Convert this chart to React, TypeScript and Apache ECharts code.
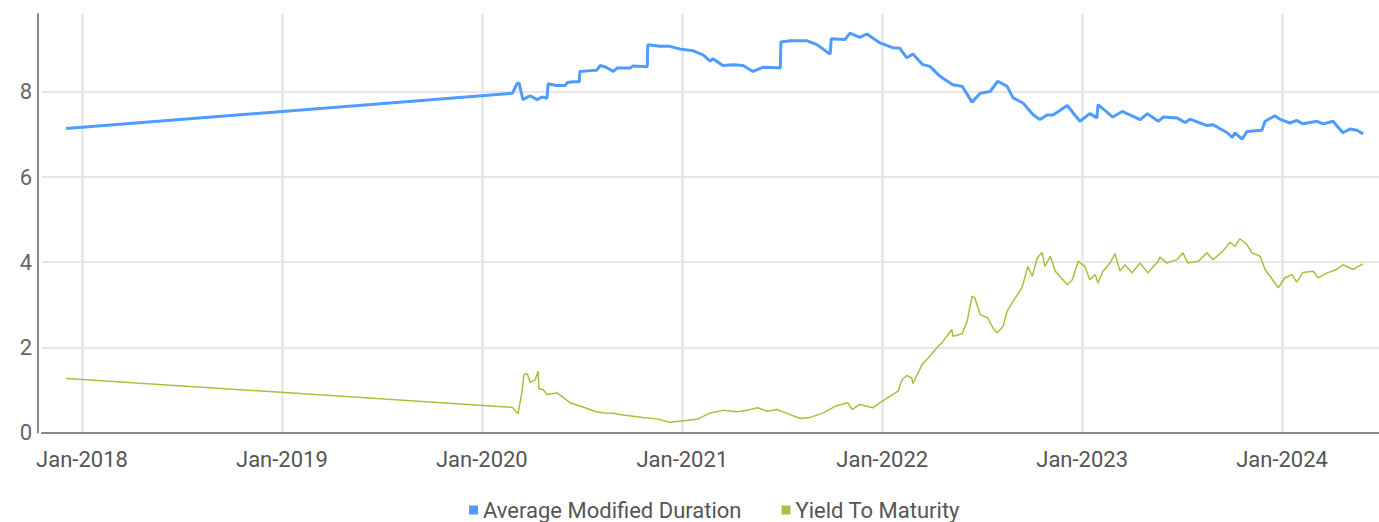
import React, { useEffect, useRef } from "react";
import * as echarts from "echarts";

const seriesNames = ["Average Modified Duration", "Yield To Maturity"];

const durationDates = [
  "2017-12-03", "2020-02-26", "2020-03-05", "2020-03-09", "2020-03-16", "2020-03-29", "2020-04-11", "2020-04-20",
  "2020-04-29", "2020-05-01", "2020-05-16", "2020-06-01", "2020-06-05", "2020-06-16", "2020-06-27", "2020-06-28",
  "2020-07-17", "2020-07-29", "2020-08-04", "2020-08-15", "2020-08-28", "2020-09-04", "2020-09-28", "2020-10-03",
  "2020-10-29", "2020-10-30", "2020-11-21", "2020-12-09", "2020-12-27", "2021-01-20", "2021-02-08", "2021-02-21",
  "2021-02-26", "2021-03-16", "2021-04-04", "2021-04-22", "2021-05-10", "2021-05-29", "2021-06-23", "2021-06-29",
  "2021-06-30", "2021-07-17", "2021-08-17", "2021-09-04", "2021-09-22", "2021-09-28", "2021-09-30", "2021-10-25",
  "2021-11-03", "2021-11-21", "2021-12-04", "2021-12-28", "2022-01-20", "2022-02-02", "2022-02-15", "2022-02-26",
  "2022-03-16", "2022-03-29", "2022-04-17", "2022-05-10", "2022-05-27", "2022-06-14", "2022-06-29", "2022-07-17",
  "2022-07-31", "2022-08-17", "2022-08-28", "2022-09-15", "2022-10-04", "2022-10-16", "2022-10-29", "2022-11-09",
  "2022-12-05", "2022-12-16", "2022-12-28", "2023-01-15", "2023-01-28", "2023-01-30", "2023-02-26", "2023-03-15",
  "2023-03-29", "2023-04-17", "2023-04-30", "2023-05-20", "2023-05-29", "2023-06-23", "2023-07-08", "2023-07-17",
  "2023-08-17", "2023-08-28", "2023-09-23", "2023-10-02", "2023-10-07", "2023-10-20", "2023-10-29", "2023-11-25",
  "2023-12-01", "2023-12-19", "2023-12-28", "2024-01-15", "2024-01-28", "2024-02-08", "2024-03-05", "2024-03-16",
  "2024-04-03", "2024-04-21", "2024-05-04", "2024-05-17", "2024-05-28",
];
const durationValues = [
  7.14, 7.97, 8.19, 8.21, 7.82, 7.91, 7.82, 7.88,
  7.85, 8.19, 8.15, 8.15, 8.22, 8.24, 8.24, 8.48,
  8.5, 8.51, 8.62, 8.58, 8.48, 8.56, 8.56, 8.61,
  8.59, 9.11, 9.07, 9.07, 9.01, 8.97, 8.87, 8.72,
  8.78, 8.62, 8.64, 8.62, 8.48, 8.58, 8.57, 8.56,
  9.17, 9.2, 9.2, 9.11, 8.94, 8.89, 9.25, 9.23,
  9.38, 9.28, 9.36, 9.15, 9.04, 9.03, 8.8, 8.89,
  8.64, 8.6, 8.36, 8.17, 8.13, 7.76, 7.97, 8.01,
  8.25, 8.13, 7.86, 7.74, 7.46, 7.35, 7.46, 7.46,
  7.68, 7.5, 7.31, 7.49, 7.39, 7.7, 7.41, 7.54,
  7.46, 7.35, 7.49, 7.31, 7.41, 7.39, 7.28, 7.36,
  7.21, 7.23, 7.04, 6.93, 7.04, 6.89, 7.07, 7.1,
  7.31, 7.44, 7.36, 7.27, 7.33, 7.25, 7.31, 7.25,
  7.31, 7.04, 7.13, 7.1, 7.01,
];

const ytmDates = [
  "2017-12-03", "2020-02-26", "2020-03-07", "2020-03-14", "2020-03-18", "2020-03-24", "2020-03-29", "2020-04-07",
  "2020-04-13", "2020-04-14", "2020-04-22", "2020-04-29", "2020-05-17", "2020-05-26", "2020-06-10", "2020-07-04",
  "2020-07-29", "2020-08-13", "2020-08-28", "2020-09-15", "2020-10-03", "2020-10-21", "2020-11-16", "2020-12-09",
  "2020-12-31", "2021-01-28", "2021-02-21", "2021-03-16", "2021-04-11", "2021-04-29", "2021-05-18", "2021-06-05",
  "2021-06-23", "2021-07-17", "2021-08-04", "2021-08-22", "2021-09-15", "2021-10-10", "2021-10-30", "2021-11-07",
  "2021-11-21", "2021-12-15", "2021-12-28", "2022-01-15", "2022-01-30", "2022-02-06", "2022-02-15", "2022-02-24",
  "2022-02-26", "2022-03-15", "2022-03-26", "2022-04-11", "2022-04-22", "2022-05-08", "2022-05-10", "2022-05-27",
  "2022-06-05", "2022-06-14", "2022-06-19", "2022-06-29", "2022-07-13", "2022-07-22", "2022-07-30", "2022-08-10",
  "2022-08-17", "2022-09-01", "2022-09-13", "2022-09-24", "2022-10-02", "2022-10-11", "2022-10-20", "2022-10-25",
  "2022-11-04", "2022-11-13", "2022-12-05", "2022-12-14", "2022-12-25", "2023-01-06", "2023-01-15", "2023-01-25",
  "2023-01-30", "2023-02-08", "2023-02-21", "2023-03-02", "2023-03-11", "2023-03-20", "2023-04-02", "2023-04-17",
  "2023-05-01", "2023-05-20", "2023-05-23", "2023-06-05", "2023-06-23", "2023-07-04", "2023-07-13", "2023-08-01",
  "2023-08-17", "2023-08-28", "2023-09-15", "2023-09-28", "2023-10-07", "2023-10-16", "2023-10-29", "2023-11-07",
  "2023-11-22", "2023-12-01", "2023-12-10", "2023-12-25", "2024-01-06", "2024-01-19", "2024-01-28", "2024-02-08",
  "2024-02-27", "2024-03-07", "2024-03-23", "2024-04-10", "2024-04-21", "2024-05-10", "2024-05-19", "2024-05-28",
];
const ytmValues = [
  1.27, 0.59, 0.44, 0.93, 1.36, 1.38, 1.18, 1.23,
  1.44, 1.03, 1.01, 0.89, 0.93, 0.85, 0.7, 0.6,
  0.48, 0.46, 0.45, 0.41, 0.38, 0.35, 0.32, 0.24,
  0.27, 0.31, 0.46, 0.52, 0.49, 0.52, 0.58, 0.5,
  0.54, 0.42, 0.33, 0.35, 0.46, 0.63, 0.7, 0.54,
  0.66, 0.58, 0.7, 0.85, 0.97, 1.24, 1.34, 1.28,
  1.15, 1.6, 1.75, 1.99, 2.14, 2.42, 2.26, 2.32,
  2.61, 3.2, 3.16, 2.77, 2.69, 2.46, 2.34, 2.5,
  2.85, 3.16, 3.4, 3.9, 3.67, 4.1, 4.23, 3.9,
  4.14, 3.79, 3.47, 3.59, 4.02, 3.9, 3.59, 3.71,
  3.51, 3.79, 3.98, 4.2, 3.79, 3.94, 3.75, 3.98,
  3.75, 4.02, 4.12, 3.98, 4.06, 4.22, 3.98, 4.02,
  4.22, 4.06, 4.26, 4.47, 4.37, 4.55, 4.41, 4.22,
  4.14, 3.83, 3.67, 3.4, 3.63, 3.71, 3.53, 3.76,
  3.79, 3.63, 3.75, 3.83, 3.94, 3.83, 3.9, 3.96,
];

const xRange = ["2017-10-20", "2024-06-26"];
const yTicks = [0, 2, 4, 6, 8];
const yMax = 9.83;
const monthNames = ["Jan", "Feb", "Mar", "Apr", "May", "Jun", "Jul", "Aug", "Sep", "Oct", "Nov", "Dec"];

const FONT = "Roboto, 'Noto Sans', sans-serif";

export default function App() {
  const ref = useRef<HTMLDivElement>(null);

  useEffect(() => {
    if (!ref.current) return;
    const chart = echarts.init(ref.current, undefined, { renderer: "svg" });
    const option = {
      animation: false,
      textStyle: { fontFamily: FONT },
      grid: { left: 42, right: 0, top: 14, bottom: 89.5, containLabel: false },
      legend: {
        data: seriesNames,
        left: 464,
        top: 494,
        icon: "rect",
        itemWidth: 9,
        itemHeight: 9,
        itemGap: 40,
        textStyle: { fontFamily: FONT, fontSize: 22, color: "#555" },
      },
      xAxis: {
        type: "time",
        min: xRange[0],
        max: xRange[1],
        offset: 3,
        splitNumber: 7,
        minInterval: 365 * 86400000,
        maxInterval: 366 * 86400000,
        axisLine: { show: true, lineStyle: { color: "#888", width: 2 } },
        axisTick: { show: false },
        axisLabel: {
          fontFamily: FONT,
          fontSize: 22,
          color: "#555",
          margin: 13,
          showMinLabel: false,
          showMaxLabel: false,
          formatter: (v: number) => {
            const d = new Date(v);
            if (d.getMonth() === 0 && d.getDate() === 1) return monthNames[0] + "-" + d.getFullYear();
            return "";
          },
        },
        splitLine: { show: true, showMinLine: false, showMaxLine: false, lineStyle: { color: "#e6e6e6", width: 2.5 } },
      },
      yAxis: {
        type: "value",
        min: 0,
        max: yMax,
        interval: 2,
        offset: 4,
        axisLine: { show: true, lineStyle: { color: "#888", width: 2 } },
        axisTick: { show: false },
        axisLabel: {
          fontFamily: FONT,
          fontSize: 22,
          color: "#666",
          margin: 6,
          formatter: (v: number) => (yTicks.indexOf(v) >= 0 ? String(v) : ""),
        },
        splitLine: { show: true, showMaxLine: false, lineStyle: { color: "#e6e6e6", width: 2 } },
      },
      series: [
        {
          name: seriesNames[0],
          type: "line",
          showSymbol: false,
          symbol: "none",
          color: "#4e9cff",
          lineStyle: { width: 3, color: "#4e9cff" },
          data: durationDates.map((d, i) => [d, durationValues[i]]),
        },
        {
          name: seriesNames[1],
          type: "line",
          showSymbol: false,
          symbol: "none",
          color: "#a8c03c",
          lineStyle: { width: 1.5, color: "#a8c03c" },
          data: ytmDates.map((d, i) => [d, ytmValues[i]]),
        },
      ],
    };
    chart.setOption(option as any);
    return () => chart.dispose();
  }, []);

  return <div ref={ref} style={{ position: "absolute", left: 0, top: 0, width: 1379, height: 522 }} />;
}
